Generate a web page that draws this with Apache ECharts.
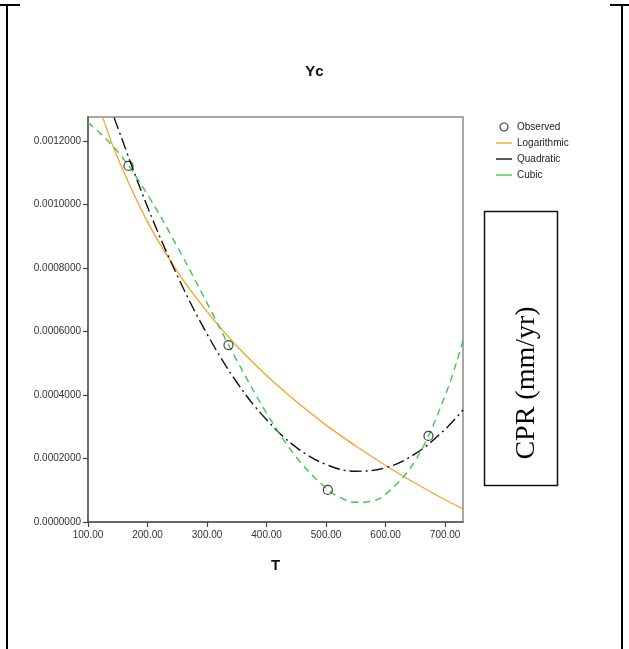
<!DOCTYPE html>
<html>
<head>
<meta charset="utf-8">
<script src="https://cdn.jsdelivr.net/npm/echarts@6/dist/echarts.min.js"></script>
<style>
html,body{margin:0;padding:0;background:#fff;}
#c{width:629px;height:649px;}
</style>
</head>
<body>
<div id="c"></div>
<script>
// Observed points
const observedT = [168, 336, 503, 672];
const observedY = [0.001121, 0.000557, 0.000101, 0.000271];

// Logarithmic fit curve
const logT = [125, 150, 200, 250, 300, 350, 400, 450, 500, 550, 600, 650, 700, 730];
const logY = [0.001273, 0.001146, 0.000945, 0.000789, 0.000662, 0.000554, 0.000461, 0.000379, 0.000305, 0.000239, 0.000178, 0.000122, 0.000070, 0.000041];

// Quadratic fit curve
const quadT = [144, 150, 200, 250, 300, 350, 400, 450, 500, 550, 600, 650, 700, 730];
const quadY = [0.001273, 0.001241, 0.000992, 0.000776, 0.000592, 0.000440, 0.000322, 0.000235, 0.000181, 0.000160, 0.000171, 0.000215, 0.000292, 0.000353];

// Cubic fit curve
const cubicT = [100, 150, 200, 250, 300, 350, 400, 450, 500, 525, 550, 575, 600, 650, 700, 730];
const cubicY = [0.001258, 0.001166, 0.001030, 0.000867, 0.000689, 0.000509, 0.000343, 0.000204, 0.000106, 0.000076, 0.000062, 0.000065, 0.000087, 0.000194, 0.000398, 0.000572];

const xTicks = [100, 200, 300, 400, 500, 600, 700];
const yTicks = [0, 0.0002, 0.0004, 0.0006, 0.0008, 0.0010, 0.0012];

const seriesNames = ['Observed', 'Logarithmic', 'Quadratic', 'Cubic'];

function pairs(xs, ys) { return xs.map((x, i) => [x, ys[i]]); }
function nearTick(v, ticks, eps) { return ticks.some(t => Math.abs(t - v) < eps); }

const chart = echarts.init(document.getElementById('c'), null, {renderer: 'canvas'});
const FONT = '"Liberation Sans", Arial, sans-serif';
const NARROW = '"Liberation Sans Narrow", "Arial Narrow", "Liberation Sans", Arial, sans-serif';
const linePath = 'path://M0,0 M0,3.3 L16,3.3 L16,4.7 L0,4.7 Z M16,8';

chart.setOption({
  backgroundColor: '#fff',
  animation: false,
  title: {
    text: 'Yc', left: 'center', top: 59,
    textStyle: {fontFamily: NARROW, fontSize: 15, fontWeight: 'bold', color: '#111'}
  },
  legend: {
    orient: 'vertical', left: 491, top: 116,
    itemWidth: 16, itemHeight: 8, itemGap: 4,
    textStyle: {fontFamily: FONT, fontSize: 10, color: '#222', lineHeight: 12},
    data: [
      {name: seriesNames[0], icon: 'circle', itemStyle: {color: 'transparent', borderColor: '#111', borderWidth: 1.2}},
      {name: seriesNames[1], icon: linePath, itemStyle: {color: '#f5a623', borderWidth: 0}},
      {name: seriesNames[2], icon: linePath, itemStyle: {color: '#111', borderWidth: 0}},
      {name: seriesNames[3], icon: linePath, itemStyle: {color: '#3ec84a', borderWidth: 0}}
    ]
  },
  grid: {
    left: 88, right: 166, top: 117, bottom: 127,
    show: true, borderColor: '#8a8a8a', borderWidth: 1.5, backgroundColor: 'transparent'
  },
  xAxis: {
    type: 'value', min: 100, max: 730, interval: 100,
    name: 'T', nameLocation: 'middle', nameGap: 36,
    nameTextStyle: {fontFamily: NARROW, fontSize: 15, fontWeight: 'bold', color: '#111'},
    axisLine: {show: true, onZero: false, lineStyle: {color: '#555', width: 1.5}},
    axisTick: {show: true, length: 5, lineStyle: {color: '#444', width: 1.2}},
    splitLine: {show: false},
    axisLabel: {
      fontFamily: FONT, fontSize: 10, color: '#333', margin: 8, showMaxLabel: false,
      formatter: v => nearTick(v, xTicks, 0.01) ? v.toFixed(2) : ''
    }
  },
  yAxis: {
    type: 'value', min: 0, max: 0.001275, interval: 0.0002,
    axisLine: {show: true, onZero: false, lineStyle: {color: '#555', width: 1.5}},
    axisTick: {show: true, length: 5, lineStyle: {color: '#444', width: 1.2}},
    splitLine: {show: false},
    axisLabel: {
      fontFamily: FONT, fontSize: 10, color: '#333', margin: 7, showMaxLabel: false,
      formatter: v => nearTick(v, yTicks, 1e-9) ? v.toFixed(7) : ''
    }
  },
  series: [
    {
      name: seriesNames[0], type: 'scatter', data: pairs(observedT, observedY),
      symbol: 'circle', symbolSize: 9, z: 5,
      itemStyle: {color: 'transparent', borderColor: '#111', borderWidth: 1.2}
    },
    {
      name: seriesNames[1], type: 'line', data: pairs(logT, logY),
      smooth: 0.4, showSymbol: false, symbol: 'none', clip: true,
      lineStyle: {color: '#f5a623', width: 1.3, type: 'solid'},
      itemStyle: {color: '#f5a623'}
    },
    {
      name: seriesNames[2], type: 'line', data: pairs(quadT, quadY),
      smooth: 0.4, showSymbol: false, symbol: 'none', clip: true,
      lineStyle: {color: '#111', width: 1.4, type: [12, 4, 2, 4]},
      itemStyle: {color: '#111'}
    },
    {
      name: seriesNames[3], type: 'line', data: pairs(cubicT, cubicY),
      smooth: 0.4, showSymbol: false, symbol: 'none', clip: true,
      lineStyle: {color: '#3ec84a', width: 1.4, type: [7, 5]},
      itemStyle: {color: '#3ec84a'}
    }
  ],
  graphic: [
    // outer frame
    {type: 'line', shape: {x1: 7, y1: 5, x2: 7, y2: 649}, style: {stroke: '#000', lineWidth: 2}, silent: true},
    {type: 'line', shape: {x1: 0, y1: 5, x2: 20, y2: 5}, style: {stroke: '#000', lineWidth: 2}, silent: true},
    {type: 'line', shape: {x1: 622, y1: 5, x2: 622, y2: 649}, style: {stroke: '#000', lineWidth: 2}, silent: true},
    {type: 'line', shape: {x1: 610, y1: 5, x2: 629, y2: 5}, style: {stroke: '#000', lineWidth: 2}, silent: true},
    // CPR box
    {type: 'rect', shape: {x: 484.5, y: 211.5, width: 73, height: 274}, style: {fill: '#fff', stroke: '#111', lineWidth: 1.5}, silent: true},
    {
      type: 'text', x: 527, y: 383, rotation: Math.PI / 2, silent: true,
      style: {text: 'CPR (mm/yr)', fontFamily: '"Liberation Serif", "Times New Roman", serif', fontSize: 28, fill: '#000', align: 'center', verticalAlign: 'middle'}
    }
  ]
});
</script>
</body>
</html>
